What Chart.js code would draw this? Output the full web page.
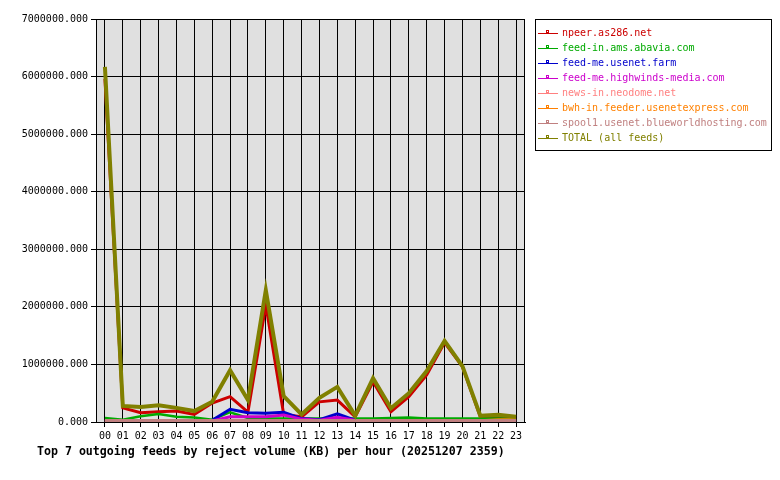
<!DOCTYPE html>
<html>
<head>
<meta charset="utf-8">
<script src="https://cdn.jsdelivr.net/npm/chart.js@4/dist/chart.umd.min.js"></script>
<style>
  html, body { margin: 0; padding: 0; background: #fff; }
  #wrap { width: 780px; height: 480px; }
</style>
</head>
<body>
<div id="wrap"><canvas id="c" width="780" height="480"></canvas></div>
<script>
// hours of the day
const hours = ["00","01","02","03","04","05","06","07","08","09","10","11",
               "12","13","14","15","16","17","18","19","20","21","22","23"];

const feedNames = [
  "npeer.as286.net",
  "feed-in.ams.abavia.com",
  "feed-me.usenet.farm",
  "feed-me.highwinds-media.com",
  "news-in.neodome.net",
  "bwh-in.feeder.usenetexpress.com",
  "spool1.usenet.blueworldhosting.com",
  "TOTAL (all feeds)"
];
const feedColors = ["#cc0000","#00aa00","#0000cc","#cc00cc","#ff8080","#ff8000","#c08080","#808000"];

// reject volume (KB) per hour
const npeer     = [5960000,245000,160000,180000,190000,130000,330000,440000,170000,2030000,130000,90000,
                   350000,380000,90000,700000,180000,440000,820000,1380000,960000,90000,90000,70000];
const abavia    = [70000,40000,100000,140000,90000,80000,40000,170000,70000,60000,60000,60000,
                   60000,60000,60000,60000,70000,80000,60000,60000,60000,60000,60000,60000];
const usenetFarm= [0,0,0,0,0,0,30000,220000,160000,150000,170000,60000,
                   40000,140000,30000,0,0,0,0,0,0,0,0,0];
const highwinds = [20000,20000,20000,20000,20000,20000,20000,90000,90000,90000,120000,50000,
                   30000,80000,30000,20000,20000,20000,20000,20000,20000,20000,20000,20000];
const neodome   = [10000,10000,10000,10000,10000,10000,10000,10000,10000,10000,10000,10000,
                   10000,10000,10000,10000,10000,10000,10000,10000,10000,10000,10000,10000];
const usenetexp = [10000,10000,10000,10000,10000,10000,10000,10000,10000,10000,10000,10000,
                   10000,10000,10000,10000,10000,10000,10000,10000,10000,20000,40000,40000];
const bwh       = [25000,25000,25000,25000,25000,25000,25000,25000,25000,25000,25000,25000,
                   25000,25000,25000,25000,25000,25000,25000,25000,25000,25000,25000,25000];
const total     = [6170000,280000,260000,290000,245000,190000,350000,900000,380000,2290000,450000,130000,
                   420000,610000,110000,760000,240000,500000,885000,1410000,970000,110000,125000,90000];

const yMax = 7000000, yStep = 1000000;
const chartTitle = "Top 7 outgoing feeds by reject volume (KB) per hour (20251207 2359)";

const series = [npeer, abavia, usenetFarm, highwinds, neodome, usenetexp, bwh, total];
const widths = [3, 2.5, 3, 3, 3, 3, 3, 4];
const MONO = "'DejaVu Sans Mono', 'Liberation Mono', monospace";

const chrome = {
  id: "chrome",
  beforeDraw(chart) {
    const {ctx, chartArea:a} = chart;
    ctx.save();
    ctx.fillStyle = "#fff"; ctx.fillRect(0, 0, chart.width, chart.height);
    ctx.fillStyle = "#e0e0e0"; ctx.fillRect(a.left, a.top, a.width, a.height);
    ctx.restore();
  },
  afterDraw(chart) {
    const {ctx, chartArea:a} = chart;
    ctx.save();
    ctx.strokeStyle = "#000"; ctx.lineWidth = 1;
    ctx.strokeRect(Math.round(a.left)+0.5, Math.round(a.top)+0.5, Math.round(a.width)-1, Math.round(a.height));
    // legend
    ctx.strokeRect(535.5, 19.5, 236, 131);
    ctx.font = "10px " + MONO; ctx.textBaseline = "middle";
    feedNames.forEach((n, i) => {
      const y = 33.5 + i*15;
      ctx.strokeStyle = feedColors[i]; ctx.fillStyle = feedColors[i];
      ctx.beginPath(); ctx.moveTo(538, y); ctx.lineTo(558, y); ctx.stroke();
      ctx.strokeRect(546.5, y-3, 2, 2);
      ctx.fillText(n, 562, y);
    });
    // title
    ctx.fillStyle = "#000"; ctx.font = "bold 11.6px " + MONO;
    ctx.fillText(chartTitle, 37, 452);
    ctx.restore();
  }
};

new Chart(document.getElementById("c"), {
  type: "line",
  data: {
    labels: hours,
    datasets: series.map((d, i) => ({
      label: feedNames[i], data: d,
      borderColor: feedColors[i], backgroundColor: feedColors[i],
      borderWidth: widths[i], pointRadius: 0, tension: 0, fill: false,
      order: series.length - 1 - i
    }))
  },
  options: {
    responsive: false, animation: false,
    layout: { padding: { left: 0, top: 19, right: 255, bottom: 0 } },
    plugins: { legend: { display: false }, tooltip: { enabled: false }, title: { display: false } },
    scales: {
      x: {
        offset: true,
        grid: { offset: false, color: "#000", lineWidth: 1, tickLength: 5, drawTicks: true },
        border: { display: true, color: "#000" },
        ticks: { color: "#000", font: { family: MONO, size: 10 }, padding: 3, maxRotation: 0, autoSkip: false },
        afterFit: s => { s.height = 58; }
      },
      y: {
        min: 0, max: yMax,
        grid: { color: "#000", lineWidth: 1, tickLength: 5 },
        border: { display: true, color: "#000" },
        ticks: { stepSize: yStep, color: "#000", font: { family: MONO, size: 10 }, padding: 3,
                 callback: v => v.toFixed(3) },
        afterFit: s => { s.width = 96; }
      }
    }
  },
  plugins: [chrome]
});
</script>
</body>
</html>
